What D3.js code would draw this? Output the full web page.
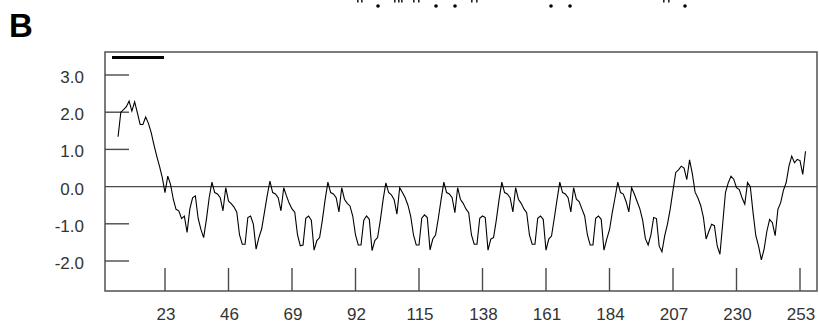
<!DOCTYPE html>
<html>
<head>
<meta charset="utf-8">
<script src="https://cdn.jsdelivr.net/npm/d3@7"></script>
<style>
  html, body { margin: 0; padding: 0; background: #fff; }
  svg { display: block; }
</style>
</head>
<body>
<svg id="chart" width="819" height="325"></svg>
<script>
// ---- data ----
const panelLabel = "B";
const startResidue = 6;
const xTicks = [23, 46, 69, 92, 115, 138, 161, 184, 207, 230, 253];
const yTicks = [3, 2, 1, 0, -1, -2];
const yTickLabels = ["3.0", "2.0", "1.0", "0.0", "-1.0", "-2.0"];
// hydropathy values, residues 6..255
const values = [
  // 6-22
  1.34, 2.0, 2.07, 2.15, 2.3, 2.03, 2.28, 1.98, 1.67, 1.67, 1.87, 1.7, 1.45, 1.12, 0.82, 0.55, 0.25,
  // 23-39
  -0.16, 0.28, 0.06, -0.34, -0.61, -0.65, -0.86, -0.79, -1.23, -0.6, -0.3, -0.25, -0.85, -1.15, -1.37, -0.88, -0.3,
  // 40-60
  0.12, -0.16, -0.2, -0.3, -0.65, -0.03, -0.39, -0.46, -0.55, -0.69, -1.3, -1.55, -1.55, -0.83, -0.79, -1.01, -1.68, -1.37, -1.14, -0.7, -0.25,
  // 61-81
  0.15, -0.16, -0.2, -0.3, -0.65, -0.03, -0.25, -0.45, -0.6, -0.69, -1.3, -1.59, -1.57, -0.85, -0.79, -0.9, -1.71, -1.45, -1.37, -0.9, -0.35,
  // 82-102
  0.12, -0.16, -0.2, -0.3, -0.68, -0.03, -0.34, -0.45, -0.52, -0.79, -1.3, -1.57, -1.57, -0.9, -0.79, -0.88, -1.72, -1.45, -1.37, -0.9, -0.35,
  // 103-123
  0.1, -0.16, -0.22, -0.35, -0.74, -0.03, -0.16, -0.3, -0.5, -0.8, -1.3, -1.57, -1.57, -0.85, -0.76, -0.83, -1.7, -1.41, -1.3, -0.85, -0.35,
  // 124-144
  0.12, -0.16, -0.2, -0.3, -0.7, -0.03, -0.34, -0.45, -0.6, -0.7, -1.3, -1.55, -1.55, -0.85, -0.79, -0.83, -1.71, -1.41, -1.37, -0.9, -0.35,
  // 145-165
  0.12, -0.16, -0.2, -0.3, -0.68, -0.03, -0.34, -0.45, -0.6, -0.7, -1.3, -1.55, -1.55, -0.85, -0.79, -0.88, -1.71, -1.41, -1.33, -0.85, -0.35,
  // 166-186
  0.12, -0.16, -0.2, -0.3, -0.68, -0.03, -0.34, -0.4, -0.6, -0.79, -1.3, -1.57, -1.57, -0.85, -0.79, -0.88, -1.71, -1.41, -1.16, -0.7, -0.3,
  // 187-206
  0.12, -0.16, -0.2, -0.4, -0.68, -0.03, -0.2, -0.4, -0.6, -0.9, -1.4, -1.57, -1.3, -0.83, -0.86, -1.6, -1.75, -1.32, -1.01, -0.6,
  // 207-255
  -0.1, 0.38, 0.45, 0.55, 0.5, 0.19, 0.72, 0.35, -0.15, -0.3, -0.5, -0.82, -1.41, -1.2, -1.01, -1.05, -1.59, -1.82, -1.0, -0.16,
  0.1, 0.28, 0.2, -0.03, -0.08, -0.3, -0.47, 0.11, 0.0, -0.7, -1.32, -1.6, -1.97, -1.68, -1.2, -0.88, -0.97, -1.32, -0.61, -0.43,
  -0.1, 0.11, 0.55, 0.82, 0.64, 0.73, 0.7, 0.33, 0.95
];
// stray marks along the top edge (remnants of the panel above)
const topDots = [378, 436, 455, 551, 570, 685];
const topMarks = [357, 361, 394, 398, 401, 413, 418, 471, 476, 663, 668];

// ---- layout ----
const frame = { left: 105, right: 817, top: 52, bottom: 291 };
const svg = d3.select("#chart");
const x = d3.scaleLinear().domain([23, 253]).range([165, 800]);
const y = d3.scaleLinear().domain([-2, 3]).range([261, 75]);
const axisColor = "#4a4a4a";
const font = "'Liberation Sans', Arial, sans-serif";

// top remnants
svg.append("g").selectAll("circle").data(topDots).join("circle")
  .attr("cx", d => d).attr("cy", 6).attr("r", 1.8).attr("fill", "#000");
svg.append("g").selectAll("rect").data(topMarks).join("rect")
  .attr("x", d => d).attr("y", 0).attr("width", 1.6).attr("height", 2.5).attr("fill", "#222");

// panel label
svg.append("text").attr("x", 9).attr("y", 37)
  .attr("font-family", font).attr("font-weight", "bold").attr("font-size", 33)
  .attr("fill", "#000").text(panelLabel);

// frame
svg.append("rect")
  .attr("x", frame.left).attr("y", frame.top)
  .attr("width", frame.right - frame.left).attr("height", frame.bottom - frame.top)
  .attr("fill", "none").attr("stroke", "#5c5c5c").attr("stroke-width", 1.6);

// scale bar top-left
svg.append("rect").attr("x", 112).attr("y", 56).attr("width", 52).attr("height", 3).attr("fill", "#000");

// y ticks (inward) and zero line
svg.append("g").selectAll("line").data(yTicks).join("line")
  .attr("x1", frame.left).attr("x2", d => d === 0 ? frame.right : frame.left + 24)
  .attr("y1", d => y(d)).attr("y2", d => y(d))
  .attr("stroke", axisColor).attr("stroke-width", d => d === 0 ? 1.2 : 1.4);

svg.append("g").selectAll("text").data(yTicks).join("text")
  .attr("x", 84).attr("y", d => y(d) + 8)
  .attr("text-anchor", "end")
  .attr("font-family", font).attr("font-size", 17).attr("fill", "#333")
  .text((d, i) => yTickLabels[i]);

// x ticks (upward from bottom)
svg.append("g").selectAll("line").data(xTicks).join("line")
  .attr("x1", d => x(d)).attr("x2", d => x(d))
  .attr("y1", frame.bottom - 23).attr("y2", frame.bottom)
  .attr("stroke", axisColor).attr("stroke-width", 1.4);

svg.append("g").selectAll("text").data(xTicks).join("text")
  .attr("x", d => x(d) + 1).attr("y", 320)
  .attr("text-anchor", "middle")
  .attr("font-family", font).attr("font-size", 17).attr("fill", "#333")
  .text(d => d);

// profile line
const line = d3.line()
  .x((d, i) => x(startResidue + i))
  .y(d => y(d));
svg.append("path").datum(values)
  .attr("d", line)
  .attr("fill", "none").attr("stroke", "#000").attr("stroke-width", 1.1)
  .attr("stroke-linejoin", "miter");
</script>
</body>
</html>
